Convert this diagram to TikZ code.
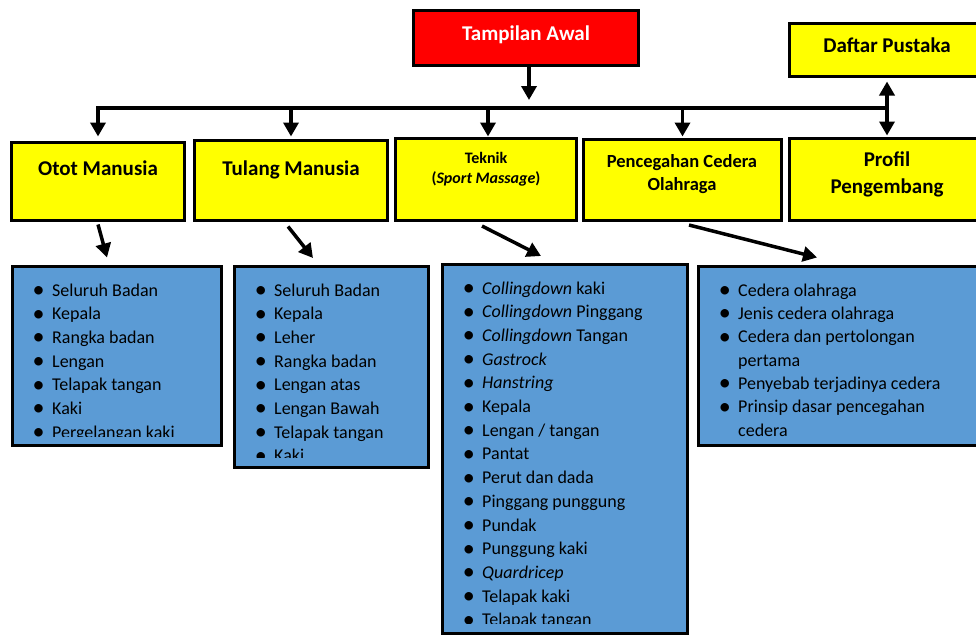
\documentclass[tikz,border=0pt]{standalone}
\usepackage{fontspec}
\setmainfont{Carlito}
\usetikzlibrary{arrows.meta,calc}
\definecolor{boxblue}{RGB}{91,155,213}
\definecolor{ylw}{RGB}{255,255,0}
\definecolor{rd}{RGB}{255,0,0}
\newcommand\itembul{\llap{\raisebox{-1.5pt}{\fontsize{24}{24}\selectfont •}\hspace{7.5pt}}}
\begin{document}
\begin{tikzpicture}[x=1pt,y=-1pt,
  box/.style={draw=black, line width=3pt, inner sep=0pt, outer sep=0pt, anchor=north west},
  ybox/.style={box, fill=ylw},
  bbox/.style={box, fill=boxblue},
  arr/.style={line width=3.5pt, -{Triangle[width=15pt,length=14pt]}},
  lbl/.style={inner sep=0pt, anchor=base, font=\bfseries\fontsize{21}{25}\selectfont},
  item/.style={inner sep=0pt, anchor=base west, font=\fontsize{18}{22}\selectfont}]
\useasboundingbox (0,0) rectangle (976,635);
\clip (0,0) rectangle (976,635);

% boxes
\node[box, fill=rd, minimum width=225, minimum height=55] (tampilan) at (413.5,10) {};
\node[ybox, minimum width=195, minimum height=53] (daftar) at (789.5,23.5) {};
\node[ybox, minimum width=173, minimum height=78] (otot) at (11.5,142.5) {};
\node[ybox, minimum width=193, minimum height=80] (tulang) at (194.5,140.5) {};
\node[ybox, minimum width=181, minimum height=82] (teknik) at (395.5,138.5) {};
\node[ybox, minimum width=198, minimum height=81] (cedera) at (583.5,139.5) {};
\node[ybox, minimum width=195, minimum height=82] (profil) at (789.5,138.5) {};
\node[bbox, minimum width=209, minimum height=179] (b1) at (12,266.5) {};
\node[bbox, minimum width=194, minimum height=201] (b2) at (234,266.5) {};
\node[bbox, minimum width=245, minimum height=369] (b3) at (442.5,264.5) {};
\node[bbox, minimum width=290, minimum height=179] (b4) at (698.5,266.5) {};

% titles
\node[lbl, text=white] (tTampilan) at (526,40) {Tampilan Awal};
\node[lbl] (tDaftar) at (887,52) {Daftar Pustaka};
\node[lbl] (tOtot) at (98,175) {Otot Manusia};
\node[lbl] (tTulang) at (291,175) {Tulang Manusia};
\node[lbl, font=\bfseries\fontsize{16}{19}\selectfont] (tTeknik1) at (486,163) {Teknik};
\node[lbl, font=\bfseries\fontsize{16}{19}\selectfont] (tTeknik2) at (486,183) {(\textit{Sport Massage})};
\node[lbl, font=\bfseries\fontsize{18.5}{22}\selectfont] (tCedera1) at (682,167.5) {Pencegahan Cedera};
\node[lbl, font=\bfseries\fontsize{18.5}{22}\selectfont] (tCedera2) at (682,190.5) {Olahraga};
\node[lbl] (tProfil1) at (887,166.5) {Profil};
\node[lbl] (tProfil2) at (887,193.5) {Pengembang};

% lists
\begin{scope}
\clip (12,266) rectangle (221,436);
\foreach [count=\i] \t in {Seluruh Badan, Kepala, Rangka badan, Lengan, Telapak tangan, Kaki, Pergelangan kaki}
  \node[item] (la-\i) at (52,{296+(\i-1)*23.67}) {\itembul\t};
\end{scope}
\begin{scope}
\clip (234,266) rectangle (428,457.5);
\foreach [count=\i] \t in {Seluruh Badan, Kepala, Leher, Rangka badan, Lengan atas, Lengan Bawah, Telapak tangan, Kaki}
  \node[item] (lb-\i) at (274,{296+(\i-1)*23.67}) {\itembul\t};
\end{scope}
\begin{scope}
\clip (442.5,264) rectangle (687.5,623.5);
\foreach [count=\i] \t in {\textit{Collingdown} kaki, \textit{Collingdown} Pinggang, \textit{Collingdown} Tangan, \textit{Gastrock}, \textit{Hanstring}, Kepala, Lengan / tangan, Pantat, Perut dan dada, Pinggang punggung, Pundak, Punggung kaki, \textit{Quardricep}, Telapak kaki, Telapak tangan}
  \node[item] (lc-\i) at (482,{294+(\i-1)*23.7}) {\itembul\t};
\end{scope}
\foreach [count=\i] \t in {\itembul Cedera olahraga, \itembul Jenis cedera olahraga, \itembul Cedera dan pertolongan, pertama, \itembul Penyebab terjadinya cedera, \itembul Prinsip dasar pencegahan, cedera}
  \node[item] (ld-\i) at (738,{296+(\i-1)*23.35}) {\t};

% connectors
\coordinate (busL) at (98,108);
\coordinate (busR) at (887,108);
\draw[arr, shorten >=8pt] ([xshift=3pt]tampilan.south) -- ([xshift=3pt]tampilan.south |- busL);
\draw[arr, line join=miter] (busR) -- (busL) -- ([yshift=6pt]otot.north);
\draw[arr] (tulang.north |- busL) -- ([yshift=4pt]tulang.north);
\draw[arr] ([xshift=2pt]teknik.north |- busL) -- ([xshift=2pt,yshift=2pt]teknik.north);
\draw[arr] (cedera.north |- busL) -- ([yshift=3pt]cedera.north);
\draw[arr] (busR) -- ([yshift=3pt]profil.north);
\draw[arr] (busR) -- ([yshift=-5pt]daftar.south);

\draw[arr] ($(otot.south)+(0,4)$) -- ($(b1.north west)+(95,-9)$);
\draw[arr] ($(tulang.south)+(-3,6)$) -- ($(b2.north west)+(79,-8.5)$);
\draw[arr] ($(teknik.south)+(-4,5.5)$) -- ($(b3.north west)+(98.5,-8.5)$);
\draw[arr] ($(cedera.south)+(6.5,4.5)$) -- ($(b4.north west)+(118.5,-9)$);
\end{tikzpicture}
\end{document}
